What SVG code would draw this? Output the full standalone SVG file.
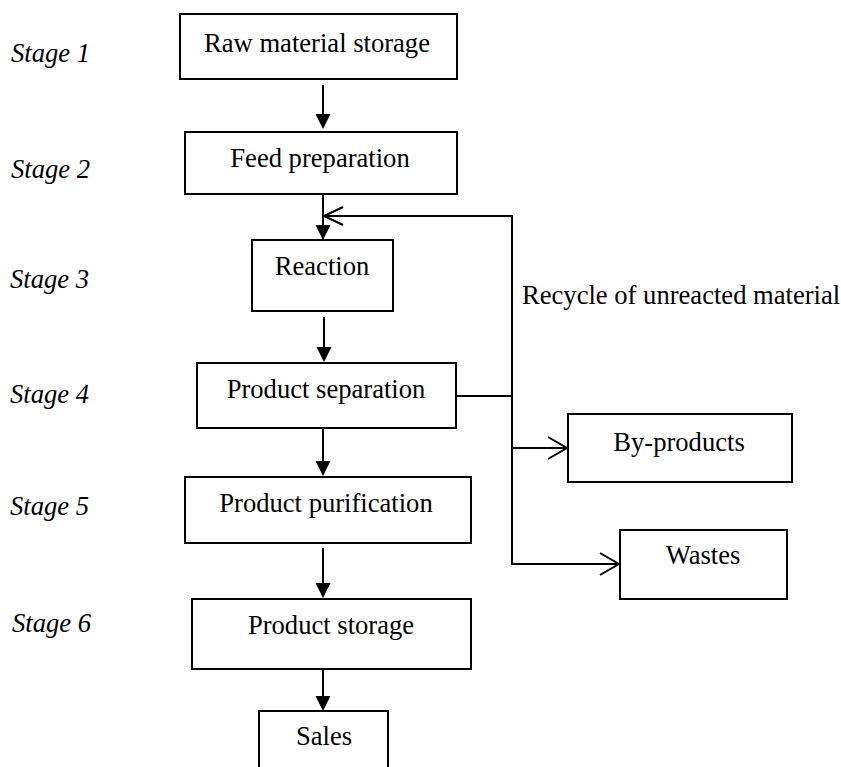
<svg xmlns="http://www.w3.org/2000/svg" width="841" height="767" viewBox="0 0 841 767">
  <style>
    .box { fill: #ffffff; stroke: #000000; stroke-width: 2; }
    .lbl { font-family: "Liberation Serif", "Times New Roman", serif; font-size: 26.6px; fill: #000000; text-anchor: middle; }
    .note { font-family: "Liberation Serif", "Times New Roman", serif; font-size: 26.6px; fill: #000000; }
    .stage { font-family: "Liberation Serif", "Times New Roman", serif; font-size: 26.6px; font-style: italic; fill: #000000; }
    .wire { fill: none; stroke: #000000; stroke-width: 2; }
    .head { fill: #000000; stroke: none; }
    .chev { fill: none; stroke: #000000; stroke-width: 2; }
  </style>
  <rect width="841" height="767" fill="#ffffff"/>

  <!-- stage labels -->
  <g id="stages">
    <text class="stage" x="11" y="62">Stage 1</text>
    <text class="stage" x="11" y="178">Stage 2</text>
    <text class="stage" x="10" y="288">Stage 3</text>
    <text class="stage" x="10" y="403">Stage 4</text>
    <text class="stage" x="10" y="515">Stage 5</text>
    <text class="stage" x="12" y="632">Stage 6</text>
  </g>

  <!-- process blocks -->
  <g id="raw-material-storage">
    <rect class="box" x="180" y="14" width="277" height="65"/>
    <text class="lbl" x="317" y="52">Raw material storage</text>
  </g>
  <g id="feed-preparation">
    <rect class="box" x="185" y="132" width="272" height="62"/>
    <text class="lbl" x="320" y="167">Feed preparation</text>
  </g>
  <g id="reaction">
    <rect class="box" x="252" y="240" width="141" height="71"/>
    <text class="lbl" x="322" y="275">Reaction</text>
  </g>
  <g id="product-separation">
    <rect class="box" x="197" y="363" width="259" height="65"/>
    <text class="lbl" x="326" y="398">Product separation</text>
  </g>
  <g id="by-products">
    <rect class="box" x="568" y="414" width="224" height="68"/>
    <text class="lbl" x="679" y="451">By-products</text>
  </g>
  <g id="wastes">
    <rect class="box" x="620" y="530" width="167" height="69"/>
    <text class="lbl" x="703" y="564">Wastes</text>
  </g>
  <g id="product-purification">
    <rect class="box" x="185" y="477" width="286" height="66"/>
    <text class="lbl" x="326" y="512">Product purification</text>
  </g>
  <g id="product-storage">
    <rect class="box" x="192" y="599" width="279" height="70"/>
    <text class="lbl" x="331" y="634">Product storage</text>
  </g>
  <g id="sales">
    <rect class="box" x="259" y="711" width="129" height="70"/>
    <text class="lbl" x="324" y="745">Sales</text>
  </g>

  <!-- connectors -->
  <g id="connectors">
    <!-- main vertical flow -->
    <line class="wire" x1="323" y1="85" x2="323" y2="115"/>
    <polygon class="head" points="315.5,114 330.5,114 323,129"/>

    <line class="wire" x1="323" y1="194" x2="323" y2="226"/>
    <polygon class="head" points="315.5,225 330.5,225 323,240"/>

    <line class="wire" x1="324" y1="317" x2="324" y2="348"/>
    <polygon class="head" points="316.5,347 331.5,347 324,362"/>

    <line class="wire" x1="323" y1="428" x2="323" y2="462"/>
    <polygon class="head" points="315.5,461 330.5,461 323,476"/>

    <line class="wire" x1="323" y1="548" x2="323" y2="584"/>
    <polygon class="head" points="315.5,583 330.5,583 323,598"/>

    <line class="wire" x1="323" y1="669" x2="323" y2="697"/>
    <polygon class="head" points="315.5,696 330.5,696 323,711"/>

    <!-- separation outlet branch -->
    <polyline class="wire" points="456,396 512,396"/>
    <!-- recycle loop back to the reactor feed -->
    <polyline class="wire" points="512,564 512,216 323,216"/>
    <polyline class="chev" points="343,207 324,216 343,225"/>
    <!-- by-products branch -->
    <line class="wire" x1="512" y1="448" x2="566" y2="448"/>
    <polyline class="chev" points="548,437 567,448 548,459"/>
    <!-- wastes branch -->
    <line class="wire" x1="511" y1="564" x2="618" y2="564"/>
    <polyline class="chev" points="600,553 619,564 600,575"/>
  </g>

  <text class="note" x="522" y="304">Recycle of unreacted material</text>
</svg>
